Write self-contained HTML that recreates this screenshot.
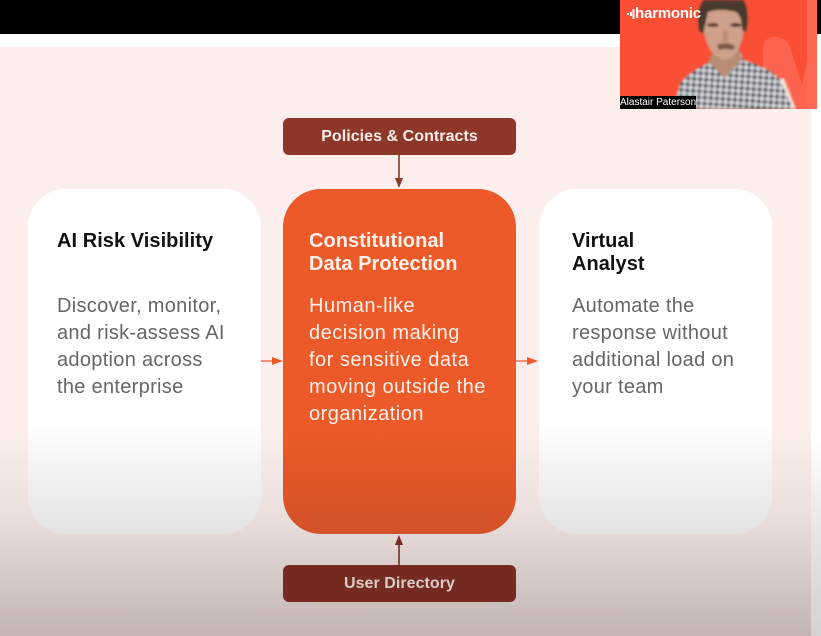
<!DOCTYPE html>
<html>
<head>
<meta charset="utf-8">
<style>
html,body{margin:0;padding:0;background:#fff}
#p{position:relative;width:821px;height:636px;overflow:hidden;background:#fff;font-family:"Liberation Sans",sans-serif}
#p div{position:absolute;box-sizing:border-box}
.t{white-space:nowrap;font-weight:700;font-size:20px;line-height:23px;letter-spacing:.05px}
.b{white-space:nowrap;font-size:20px;line-height:27px;letter-spacing:.3px}
.bar{left:283px;width:233px;height:37px;border-radius:6px;text-align:center;font-weight:700;font-size:16px;line-height:37px;letter-spacing:.05px}
</style>
</head>
<body>
<div id="p">
<div style="left:0;top:0;width:821px;height:34px;background:#000"></div>
<div style="left:0;top:47px;width:811px;height:589px;background:linear-gradient(#fbeeec 0,#fbeeec 385px,#eadfdd 470px,#c2b5b3 589px)"></div>
<div style="left:811px;top:109px;width:10px;height:527px;background:linear-gradient(#fff 0,#fff 330px,#e6e6e4 420px,#d2d2d0 527px)"></div>

<div style="left:28px;top:189px;width:233px;height:345px;border-radius:38px;background:linear-gradient(#fff 0,#fff 235px,#e4e3e3 345px)"></div>
<div style="left:539px;top:189px;width:233px;height:345px;border-radius:38px;background:linear-gradient(#fff 0,#fff 235px,#e4e3e3 345px)"></div>
<div style="left:283px;top:189px;width:233px;height:345px;border-radius:38px;background:linear-gradient(#ec5a29 0,#ec5a29 240px,#d35227 345px)"></div>

<div class="bar" style="top:118px;background:#8c3727;color:#fbeeea">Policies &amp; Contracts</div>
<div class="bar" style="top:565px;background:#752b20;color:#d9ccc8">User Directory</div>

<svg style="position:absolute;left:0;top:0" width="821" height="636">
<line x1="399" y1="155" x2="399" y2="180" stroke="#8c3727" stroke-width="1.6"/>
<polygon points="395,178 403,178 399,188" fill="#8c3727"/>
<line x1="399" y1="565" x2="399" y2="544" stroke="#752b20" stroke-width="1.6"/>
<polygon points="395,545 403,545 399,535" fill="#752b20"/>
<line x1="261" y1="361" x2="274" y2="361" stroke="#ee7a55" stroke-width="1.6"/>
<polygon points="272,357 272,365 283,361" fill="#ec5a29"/>
<line x1="516" y1="361" x2="528" y2="361" stroke="#ee7a55" stroke-width="1.6"/>
<polygon points="527,357 527,365 538,361" fill="#ec5a29"/>
</svg>

<div class="t" style="left:57px;top:230px;color:#111">AI Risk Visibility</div>
<div class="b" style="left:57px;top:293px;color:#666">Discover, monitor,<br>and risk-assess AI<br>adoption across<br>the enterprise</div>

<div class="t" style="left:309px;top:230px;color:#fdf1ea">Constitutional<br>Data Protection</div>
<div class="b" style="left:309px;top:293px;color:#fdf1ea;letter-spacing:.5px">Human-like<br>decision making<br>for sensitive data<br>moving outside the<br>organization</div>

<div class="t" style="left:572px;top:230px;color:#111">Virtual<br>Analyst</div>
<div class="b" style="left:572px;top:293px;color:#666">Automate the<br>response without<br>additional load on<br>your team</div>

<svg style="position:absolute;left:620px;top:0" width="197" height="109" viewBox="0 0 197 109">
<defs>
<pattern id="pl" width="6" height="6" patternUnits="userSpaceOnUse" patternTransform="rotate(4)">
<rect width="6" height="6" fill="#a9abb2"/>
<rect width="3" height="3" fill="#3a3c44"/>
<rect x="3" y="3" width="3" height="3" fill="#e6e6e8"/>
</pattern>
<filter id="bl"><feGaussianBlur stdDeviation="1"/></filter>
</defs>
<rect width="197" height="109" fill="#fa4e35"/>
<rect x="187" width="10" height="109" fill="#fc6a55"/>
<path d="M143 109 V50 Q143 37 155 37 Q168 37 171 50 L182 85 L187 60 V109 Z" fill="#fc6450"/>
<g filter="url(#bl)">
<path d="M164 78 L176 109 L168 109 L156 80 Z" fill="#f0e2d8"/>
<path d="M52 109 L60 84 Q66 74 86 64 L100 50 L118 48 L124 60 Q150 68 160 80 L173 109 Z" fill="url(#pl)"/>
<path d="M88 62 L104 78 L122 60 L118 44 L96 44 Z" fill="#b98c76"/>
<path d="M82 6 Q81 54 104 60 Q120 58 124 30 L124 6 Z" fill="#cfa08a"/>
<path d="M79 30 Q76 8 84 0 L123 0 Q130 10 126 32 L122 30 Q122 16 116 12 Q100 8 88 12 L83 34 Z" fill="#4a382d"/>
<ellipse cx="93" cy="25" rx="6" ry="2" fill="#5a4034"/>
<ellipse cx="116" cy="25" rx="6" ry="2" fill="#5a4034"/>
<path d="M97 45 Q106 41 115 46 L113 50 Q105 48 99 50 Z" fill="#7e5646"/>
<rect x="103" y="30" width="5" height="12" fill="#c08b74"/>
</g>
<rect x="0" y="96" width="76" height="13" fill="#000"/>
<g fill="#fff">
<rect x="7" y="13" width="2" height="2"/>
<rect x="10" y="12" width="2" height="4"/>
<rect x="12.500" y="9" width="2" height="10"/>
</g>
</svg>
<div style="left:620px;top:96px;width:76px;height:13px;color:#fff;font-size:10px;line-height:13px;white-space:nowrap;overflow:hidden">Alastair Paterson</div>
<div style="left:635px;top:4px;color:#fff;font-size:15px;line-height:20px;font-weight:700;white-space:nowrap;letter-spacing:-.2px">harmonic</div>
</div>
</body>
</html>
